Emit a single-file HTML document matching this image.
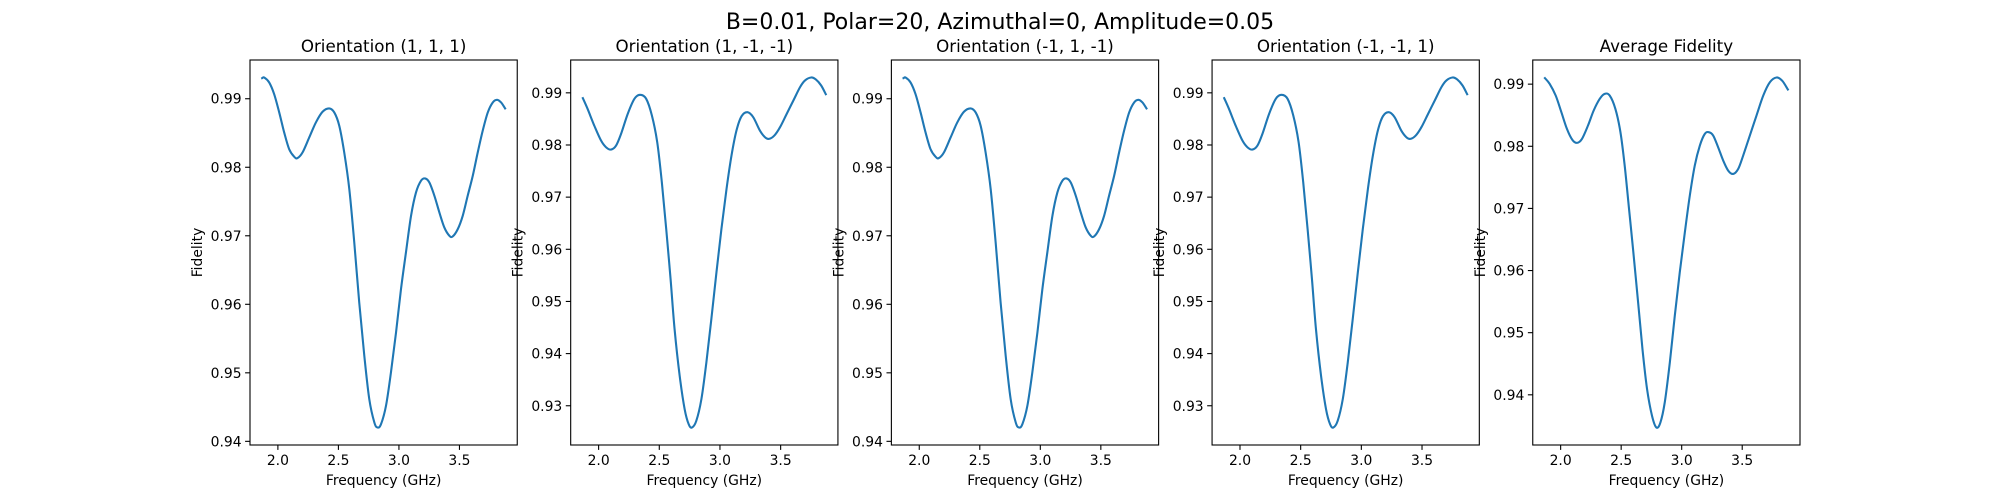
<!DOCTYPE html>
<html><head><meta charset="utf-8">
<style>
html,body{margin:0;padding:0;background:#fff;}
svg{display:block;font-family:"DejaVu Sans","Liberation Sans",sans-serif;}
</style></head>
<body>
<svg id="fig" width="2000" height="500" viewBox="0 0 2000 500" xmlns="http://www.w3.org/2000/svg">
<rect width="2000" height="500" fill="#fff"/>
<text x="1000" y="29" font-size="22" text-anchor="middle" fill="#000">B=0.01, Polar=20, Azimuthal=0, Amplitude=0.05</text>
</svg>
<script>
// ---- data ----
const titles = ["Orientation (1, 1, 1)","Orientation (1, -1, -1)","Orientation (-1, 1, -1)","Orientation (-1, -1, 1)","Average Fidelity"];
const xTickLabels = ["2.0","2.5","3.0","3.5"];
const xTickValues = [2.0,2.5,3.0,3.5];

const freq111 = [1.87,1.887,1.928,1.969,2.011,2.052,2.093,2.135,2.162,2.204,2.259,2.314,2.369,2.424,2.466,2.507,2.548,2.590,2.631,2.672,2.714,2.755,2.797,2.824,2.852,2.893,2.934,2.976,3.017,3.058,3.100,3.141,3.182,3.216,3.251,3.293,3.334,3.375,3.417,3.444,3.486,3.527,3.568,3.610,3.651,3.692,3.734,3.775,3.811,3.844,3.877];
const fid111 = [0.9930,0.9931,0.99238,0.99068,0.98800,0.98508,0.98265,0.98153,0.98134,0.98217,0.98435,0.98654,0.98810,0.98859,0.98800,0.98606,0.98217,0.97681,0.96903,0.96027,0.95248,0.94616,0.94275,0.94202,0.94251,0.94518,0.95005,0.95589,0.96221,0.96757,0.97292,0.97633,0.97803,0.97837,0.97779,0.97584,0.97341,0.97122,0.97000,0.96990,0.97097,0.97292,0.97584,0.97876,0.98217,0.98533,0.98800,0.98946,0.98985,0.98946,0.98859];

const freq1mm = [1.87,1.909,1.964,2.020,2.061,2.102,2.144,2.185,2.240,2.295,2.342,2.392,2.439,2.483,2.521,2.557,2.593,2.626,2.668,2.709,2.742,2.769,2.805,2.847,2.888,2.929,2.971,3.012,3.054,3.095,3.136,3.178,3.227,3.274,3.329,3.371,3.404,3.448,3.495,3.550,3.605,3.660,3.701,3.751,3.790,3.834,3.872];
const fid1mm = [0.98898,0.98693,0.98373,0.98085,0.97957,0.97912,0.97989,0.98213,0.98597,0.98885,0.98962,0.98885,0.98565,0.98053,0.97285,0.96390,0.95430,0.94470,0.93574,0.92935,0.92647,0.92583,0.92711,0.93127,0.93830,0.94662,0.95558,0.96390,0.97157,0.97797,0.98277,0.98552,0.98629,0.98533,0.98277,0.98149,0.98117,0.98181,0.98341,0.98597,0.98853,0.99109,0.99237,0.99294,0.99256,0.99141,0.98974];

const freqm1m = [1.87,1.887,1.928,1.969,2.011,2.052,2.093,2.135,2.162,2.204,2.259,2.314,2.369,2.424,2.466,2.507,2.548,2.590,2.631,2.672,2.714,2.755,2.797,2.824,2.852,2.893,2.934,2.976,3.017,3.058,3.100,3.141,3.182,3.216,3.251,3.293,3.334,3.375,3.417,3.444,3.486,3.527,3.568,3.610,3.651,3.692,3.734,3.775,3.811,3.844,3.877];
const fidm1m = [0.9930,0.9931,0.99238,0.99068,0.98800,0.98508,0.98265,0.98153,0.98134,0.98217,0.98435,0.98654,0.98810,0.98859,0.98800,0.98606,0.98217,0.97681,0.96903,0.96027,0.95248,0.94616,0.94275,0.94202,0.94251,0.94518,0.95005,0.95589,0.96221,0.96757,0.97292,0.97633,0.97803,0.97837,0.97779,0.97584,0.97341,0.97122,0.97000,0.96990,0.97097,0.97292,0.97584,0.97876,0.98217,0.98533,0.98800,0.98946,0.98985,0.98946,0.98859];

const freqmm1 = [1.87,1.909,1.964,2.020,2.061,2.102,2.144,2.185,2.240,2.295,2.342,2.392,2.439,2.483,2.521,2.557,2.593,2.626,2.668,2.709,2.742,2.769,2.805,2.847,2.888,2.929,2.971,3.012,3.054,3.095,3.136,3.178,3.227,3.274,3.329,3.371,3.404,3.448,3.495,3.550,3.605,3.660,3.701,3.751,3.790,3.834,3.872];
const fidmm1 = [0.98898,0.98693,0.98373,0.98085,0.97957,0.97912,0.97989,0.98213,0.98597,0.98885,0.98962,0.98885,0.98565,0.98053,0.97285,0.96390,0.95430,0.94470,0.93574,0.92935,0.92647,0.92583,0.92711,0.93127,0.93830,0.94662,0.95558,0.96390,0.97157,0.97797,0.98277,0.98552,0.98629,0.98533,0.98277,0.98149,0.98117,0.98181,0.98341,0.98597,0.98853,0.99109,0.99237,0.99294,0.99256,0.99141,0.98974];

const freqAvg = [1.87,1.909,1.959,2.006,2.052,2.097,2.135,2.176,2.226,2.273,2.323,2.364,2.405,2.452,2.494,2.529,2.565,2.598,2.640,2.676,2.714,2.755,2.791,2.824,2.860,2.902,2.943,2.984,3.026,3.067,3.108,3.150,3.191,3.224,3.260,3.301,3.343,3.384,3.425,3.467,3.508,3.563,3.618,3.674,3.729,3.784,3.831,3.877];
const fidAvg = [0.99097,0.99005,0.98817,0.98549,0.98280,0.98103,0.98055,0.98119,0.98334,0.98576,0.98764,0.98844,0.98817,0.98603,0.98227,0.97690,0.96991,0.96347,0.95488,0.94736,0.94091,0.93662,0.93474,0.93554,0.93877,0.94521,0.95273,0.95971,0.96615,0.97206,0.97690,0.98012,0.98200,0.98227,0.98173,0.97985,0.97770,0.97609,0.97555,0.97636,0.97851,0.98173,0.98495,0.98817,0.99032,0.99107,0.99054,0.98914];

const seriesX = [freq111, freq1mm, freqm1m, freqmm1, freqAvg];
const seriesY = [fid111, fid1mm, fidm1m, fidmm1, fidAvg];

// ---- layout ----
const NS = "http://www.w3.org/2000/svg";
const svg = document.getElementById("fig");
const axLeft = 250, axTop = 60, axH = 385;
const axW = 1550 / 5.8, gap = axW * 0.2;
function mk(tag, attrs, parent) {
  const e = document.createElementNS(NS, tag);
  for (const k in attrs) e.setAttribute(k, attrs[k]);
  (parent || svg).appendChild(e);
  return e;
}
function smoothPath(pts) {
  let d = "M" + pts[0][0].toFixed(2) + "," + pts[0][1].toFixed(2);
  for (let i = 0; i < pts.length - 1; i++) {
    const p0 = pts[Math.max(0, i - 1)], p1 = pts[i], p2 = pts[i + 1], p3 = pts[Math.min(pts.length - 1, i + 2)];
    const c1x = p1[0] + (p2[0] - p0[0]) / 6, c1y = p1[1] + (p2[1] - p0[1]) / 6;
    const c2x = p2[0] - (p3[0] - p1[0]) / 6, c2y = p2[1] - (p3[1] - p1[1]) / 6;
    d += " C" + c1x.toFixed(2) + "," + c1y.toFixed(2) + " " + c2x.toFixed(2) + "," + c2y.toFixed(2) + " " + p2[0].toFixed(2) + "," + p2[1].toFixed(2);
  }
  return d;
}

for (let p = 0; p < 5; p++) {
  const xs = seriesX[p], ys = seriesY[p];
  const x0 = axLeft + p * (axW + gap);
  const g = mk("g", {});
  
  
  let xmin = Math.min(...xs), xmax = Math.max(...xs);
  let ymin = Math.min(...ys), ymax = Math.max(...ys);
  const xr = xmax - xmin, yr = ymax - ymin;
  xmin -= 0.05 * xr; xmax += 0.05 * xr; ymin -= 0.05 * yr; ymax += 0.05 * yr;
  const sx = v => x0 + (v - xmin) / (xmax - xmin) * axW;
  const sy = v => axTop + axH - (v - ymin) / (ymax - ymin) * axH;

  // line
  const pts = xs.map((v, i) => [sx(v), sy(ys[i])]);
  const line = mk("path", {d: smoothPath(pts), fill: "none", stroke: "#1f77b4", "stroke-width": 2.1, "stroke-linejoin": "round", "stroke-linecap": "square"}, g);
  
  

  // frame
  const frame = mk("rect", {x: x0, y: axTop, width: axW, height: axH, fill: "none", stroke: "#000", "stroke-width": 1.1}, g);
  
  

  // x ticks
  for (let i = 0; i < xTickValues.length; i++) {
    const x = sx(xTickValues[i]);
    const t = mk("line", {x1: x, x2: x, y1: axTop + axH, y2: axTop + axH + 4.9, stroke: "#000", "stroke-width": 1.1}, g);
    
    
    const lb = mk("text", {x: x, y: axTop + axH + 20, "font-size": 13.9, "text-anchor": "middle", fill: "#000"}, g);
    
    
    lb.textContent = xTickLabels[i];
  }
  // y ticks
  const startT = Math.ceil(ymin / 0.01 - 1e-9);
  for (let k = startT; k * 0.01 <= ymax + 1e-9; k++) {
    const v = k * 0.01, y = sy(v);
    const t = mk("line", {x1: x0 - 4.9, x2: x0, y1: y, y2: y, stroke: "#000", "stroke-width": 1.1}, g);
    
    
    const lb = mk("text", {x: x0 - 8.4, y: y + 5, "font-size": 13.9, "text-anchor": "end", fill: "#000"}, g);
    
    
    lb.textContent = v.toFixed(2);
  }
  // title
  const tt = mk("text", {x: x0 + axW / 2, y: axTop - 8, "font-size": 16.7, "text-anchor": "middle", fill: "#000"}, g);
  
  
  tt.textContent = titles[p];
  // x label
  const xl = mk("text", {x: x0 + axW / 2, y: axTop + axH + 40, "font-size": 13.9, "text-anchor": "middle", fill: "#000"}, g);
  
  
  xl.textContent = "Frequency (GHz)";
  // y label
  const yx = x0 - 48, yy = axTop + axH / 2;
  const yl = mk("text", {x: yx, y: yy, "font-size": 13.9, "text-anchor": "middle", fill: "#000", transform: "rotate(-90 " + yx + " " + yy + ")"}, g);
  
  
  yl.textContent = "Fidelity";
}
</script>
</body></html>
